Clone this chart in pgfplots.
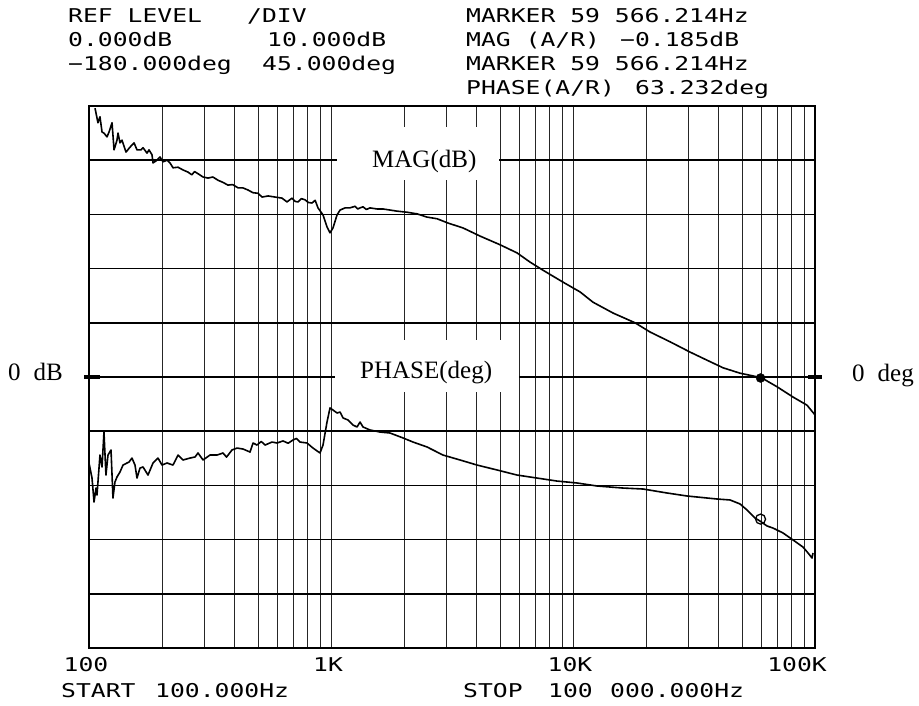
\documentclass[border=0pt]{standalone}
\usepackage{pgfplots}
\pgfplotsset{compat=1.18}
\usepackage{fontspec}
\newfontfamily\plotfont[FakeStretch=1.3]{DejaVu Sans Mono}
\newfontfamily\timesfont{Liberation Serif}
\newcommand\pf{\plotfont\fontsize{19}{19}\selectfont}
\newcommand\tf{\timesfont\fontsize{25}{25}\selectfont}
\begin{document}
\begin{tikzpicture}[x=1pt,y=1pt]
\useasboundingbox (0,0) rectangle (919,705);
\begin{axis}[
  at={(89pt,57pt)}, anchor=south west,
  width=726pt, height=542pt, scale only axis,
  xmode=log, xmin=100, xmax=100000,
  ymin=-50, ymax=50,
  xtick={100,1000,10000,100000},
  xticklabels={100,1K,10K,\hspace*{-30pt}100K},
  minor xtick={200,300,400,500,600,700,800,900,2000,3000,4000,5000,6000,7000,8000,9000,20000,30000,40000,50000,60000,70000,80000,90000},
  ytick=\empty,
  extra y ticks={-40,-30,-20,-10,0,10,20,30,40},
  extra y tick labels={},
  extra y tick style={grid=major, major grid style={black, line width=1.5pt}},
  xmajorgrids, xminorgrids,
  major grid style={black!85, line width=0.6pt},
  minor grid style={black!85, line width=0.6pt},
  major tick length=0pt, minor tick length=0pt,
  axis line style={black, line width=1.3pt},
  xticklabel style={font=\pf, anchor=north, inner sep=0pt, yshift=-9pt, xshift=-3pt},
  clip=false,
]
\fill[white] (axis cs:1059,46.1) rectangle (axis cs:4944,36.3);
\fill[white] (axis cs:1039,6.8) rectangle (axis cs:5983,-2.8);
\addplot[black, line width=1.6pt, line join=round] coordinates {
(105.9,49.6)(108.9,46.9)(111.0,48.0)(113.2,45.2)(115.3,45.0)(118.7,44.3)(121.0,45.2)(124.5,46.9)(126.9,41.9)(130.5,43.7)(131.8,45.0)(134.3,43.2)(136.9,43.7)(142.2,41.5)(147.7,42.4)(153.5,43.2)(157.9,41.9)(164.0,41.9)(167.2,42.3)(173.7,41.3)(177.0,41.9)(182.1,41.0)(183.9,39.5)(191.0,40.0)(196.5,40.6)(202.2,39.7)(210.1,40.0)(216.1,39.5)(222.4,38.6)(233.3,38.7)(244.6,38.2)(256.5,37.8)(266,37.3)(273,37.9)(282.2,37.5)(296,36.9)(310.3,36.7)(325,36.9)(341.3,36.3)(358,35.9)(375.3,35.4)(392,35.5)(412.9,34.9)(432,34.9)(454.0,34.5)(476,34.0)(499.3,33.9)(518.7,33.2)(550,33.4)(587.0,33.2)(627.4,33.0)(658.0,32.3)(690.1,33.0)(710,32.4)(730.6,32.3)(755,32.9)(780.7,32.7)(805,32.2)(834.5,32.1)(860,32.6)(883.6,31.2)(926.7,29.9)(962.7,27.7)(990.6,26.6)(1019,27.5)(1059,29.9)(1090,30.8)(1143,31.2)(1198,31.2)(1257,31.5)(1290,31.0)(1318,31.2)(1356,31.4)(1400,30.9)(1449,31.2)(1549,31.0)(1640,31.0)(1753,30.8)(1874,30.6)(2061,30.4)(2267,30.1)(2493,29.5)(2742,29.2)(3045,28.4)(3512,27.5)(4128,26.0)(4993,24.4)(5869,22.9)(6643,21.2)(7516,19.7)(9093,17.5)(10690,15.7)(12093,13.8)(14636,11.8)(18044,10.0)(20807,8.3)(25164,6.5)(30441,4.6)(35794,3.1)(41677,1.7)(48983,0.7)(55431,0.2)(60395,-0.2)(69663,-1.8)(81113,-3.7)(92662,-5.2)(100000,-7.0)
};
\addplot[only marks, mark=*, mark size=4.5pt, black] coordinates {(59566,-0.185)};
\end{axis}
\begin{axis}[
  at={(89pt,57pt)}, anchor=south west,
  width=726pt, height=542pt, scale only axis,
  xmode=log, xmin=100, xmax=100000,
  ymin=-225, ymax=225, hide axis, clip=false,
]
\addplot[black, line width=1.6pt, line join=round] coordinates {
(100,-71.4)(102.9,-83.9)(104.9,-103.8)(106.9,-92.2)(107.9,-98.0)(111.0,-64.8)(113.2,-74.7)(115.3,-45.7)(117.5,-81.4)(119.8,-64.8)(123.3,-60.6)(125.6,-100.5)(128.0,-87.2)(130.5,-83.0)(134.3,-78.9)(138.2,-73.1)(143.6,-71.4)(146.3,-70.6)(150.5,-67.3)(154.9,-73.1)(157.9,-83.9)(162.4,-75.6)(167.2,-74.7)(175.3,-81.4)(183.9,-71.4)(192.8,-67.3)(200.3,-73.1)(210.1,-71.4)(222.4,-73.1)(233.3,-64.8)(244.6,-68.9)(261.5,-67.3)(274.2,-66.4)(282.2,-63.1)(295.9,-68.9)(316.2,-64.8)(338.0,-64.8)(357.9,-63.1)(370,-66.5)(389.9,-60.6)(408.9,-59.0)(432.9,-59.8)(462.8,-62.3)(476.2,-54.8)(494.6,-56.5)(515,-53.5)(533.8,-56.5)(570.5,-54.0)(598.4,-54.8)(633.6,-53.1)(665,-55.0)(696.6,-52.3)(720,-51.0)(744.5,-54.0)(795.9,-54.8)(842.5,-59.0)(900.6,-63.1)(926.7,-56.5)(962.7,-37.4)(990.6,-25.7)(1019,-27.4)(1059,-29.9)(1090,-29.1)(1121,-34.0)(1176,-35.7)(1233,-39.9)(1281,-41.5)(1318,-37.4)(1356,-41.5)(1449,-44.0)(1594,-45.7)(1753,-46.5)(1984,-50.6)(2182,-54.0)(2493,-58.1)(2902,-64.8)(3413,-68.9)(4012,-73.1)(4853,-77.2)(5869,-81.4)(7100,-83.9)(8589,-86.4)(10388,-88.0)(12569,-90.5)(16095,-92.2)(19470,-93.0)(24456,-96.3)(29590,-98.8)(39355,-101.3)(44555,-102.1)(48983,-105.4)(52360,-110.4)(56508,-117.1)(59250,-119.6)(63345,-123.7)(67060,-125.4)(73760,-129.5)(81113,-135.3)(89200,-141.2)(93560,-146.1)(97190,-150.3)(98100,-146.1)
};
\addplot[only marks, mark=o, mark size=5pt, line width=1.3pt, black] coordinates {(59566,-118)};
\end{axis}
% reference level markers
\draw[line width=4pt] (84,328) -- (100,328);
\draw[line width=4pt] (808,328) -- (822,328);
% header
\node[anchor=base west, inner sep=0] at (68,682) {\pf REF LEVEL};
\node[anchor=base west, inner sep=0] at (247,682) {\pf /DIV};
\node[anchor=base west, inner sep=0] at (466,682) {\pf MARKER 59 566.214Hz};
\node[anchor=base west, inner sep=0] at (68,658) {\pf 0.000dB};
\node[anchor=base west, inner sep=0] at (267,658) {\pf 10.000dB};
\node[anchor=base west, inner sep=0] at (466,658) {\pf MAG (A/R)};
\node[anchor=base west, inner sep=0] at (620,658) {\pf −0.185dB};
\node[anchor=base west, inner sep=0] at (68,634) {\pf −180.000deg};
\node[anchor=base west, inner sep=0] at (262,634) {\pf 45.000deg};
\node[anchor=base west, inner sep=0] at (466,634) {\pf MARKER 59 566.214Hz};
\node[anchor=base west, inner sep=0] at (466,610) {\pf PHASE(A/R)};
\node[anchor=base west, inner sep=0] at (635,610) {\pf 63.232deg};
% labels
\node[anchor=base west, inner sep=0] at (8,324) {\tf 0\hspace{13pt}dB};
\node[anchor=base west, inner sep=0] at (852,323) {\tf 0\hspace{13pt}deg};
\node[anchor=base west, inner sep=0] at (372,537) {\tf MAG(dB)};
\node[anchor=base west, inner sep=0] at (360,326) {\tf PHASE(deg)};
% footer
\node[anchor=base west, inner sep=0] at (61,8) {\pf START};
\node[anchor=base west, inner sep=0] at (155,8) {\pf 100.000Hz};
\node[anchor=base west, inner sep=0] at (463,8) {\pf STOP};
\node[anchor=base west, inner sep=0] at (548,8) {\pf 100};
\node[anchor=base west, inner sep=0] at (610,8) {\pf 000.000Hz};
\end{tikzpicture}
\end{document}
